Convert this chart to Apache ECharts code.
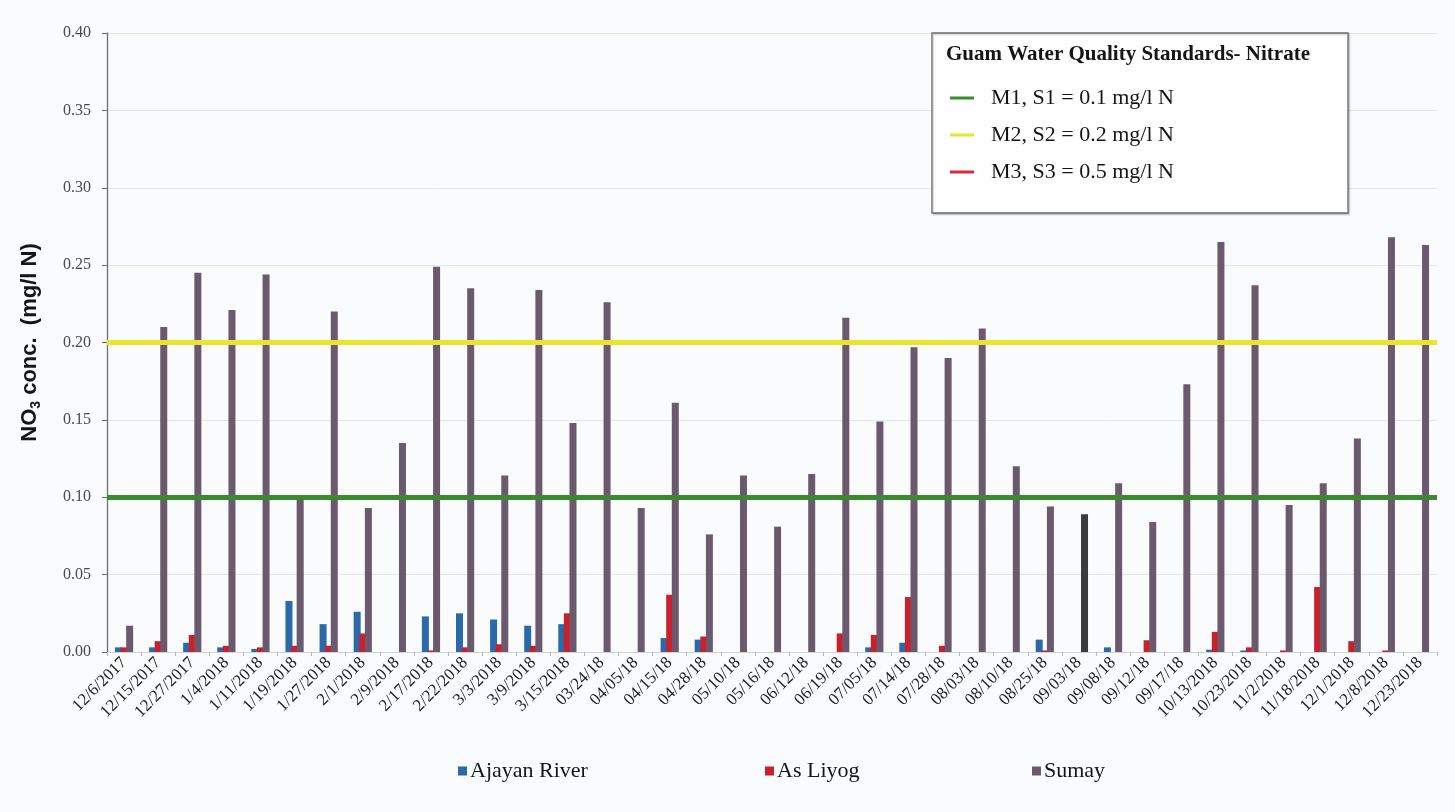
<!DOCTYPE html>
<html><head><meta charset="utf-8">
<script src="https://cdn.jsdelivr.net/npm/echarts@6/dist/echarts.min.js"></script>
<style>html,body{margin:0;padding:0;background:#fafbfc}#c{width:1455px;height:812px}</style>
</head><body><div id="c"></div>
<script>
const categories = ['12/6/2017','12/15/2017','12/27/2017','1/4/2018','1/11/2018','1/19/2018','1/27/2018','2/1/2018','2/9/2018','2/17/2018','2/22/2018','3/3/2018','3/9/2018','3/15/2018','03/24/18','04/05/18','04/15/18','04/28/18','05/10/18','05/16/18','06/12/18','06/19/18','07/05/18','07/14/18','07/28/18','08/03/18','08/10/18','08/25/18','09/03/18','09/08/18','09/12/18','09/17/18','10/13/2018','10/23/2018','11/2/2018','11/18/2018','12/1/2018','12/8/2018','12/23/2018'];
const ajayan = [0.003,0.003,0.006,0.003,0.002,0.033,0.018,0.026,0,0.023,0.025,0.021,0.017,0.018,0,0,0.009,0.008,0,0,0,0,0.003,0.006,0,0,0,0.008,0,0.003,0,0,0.0015,0.001,0,0,0,0,0];
const asLiyog = [0.003,0.007,0.011,0.004,0.003,0.004,0.004,0.012,0,0.001,0.003,0.005,0.004,0.025,0,0,0.037,0.010,0,0,0,0.012,0.011,0.0355,0.004,0,0,0.001,0,0,0.0076,0,0.013,0.003,0.001,0.042,0.007,0.001,0];
const sumay = [0.017,0.210,0.245,0.221,0.244,0.100,0.220,0.093,0.135,0.249,0.235,0.114,0.234,0.148,0.226,0.093,0.161,0.076,0.114,0.081,0.115,0.216,0.149,0.197,0.190,0.209,0.120,0.094,0.089,0.109,0.084,0.173,0.265,0.237,0.095,0.109,0.138,0.268,0.263];
const seriesNames = ['Ajayan River','As Liyog','Sumay'];
const standardNames = ['M1, S1 = 0.1 mg/l N','M2, S2 = 0.2 mg/l N','M3, S3 = 0.5 mg/l N'];
const standardLevels = [0.1, 0.2, 0.5];
const legendTitle = 'Guam Water Quality Standards- Nitrate';
const yMin = 0, yMax = 0.4, yStep = 0.05;

const SERIF = "'Liberation Serif','Times New Roman',serif";
const barColors = ['#2a6aa6','#c9202b','#6b5a6e'];
const stdColors = ['#3b8a2e','#ebe32c','#d8283a'];

const chart = echarts.init(document.getElementById('c'));
const barData = [ajayan, asLiyog, sumay];
const series = barData.map((arr, i) => ({
  name: seriesNames[i], type: 'bar', barWidth: 7, barGap: '-20%',
  itemStyle: {color: barColors[i]},
  data: arr.map((v, k) => (i === 2 && categories[k] === '09/03/18') ? {value: v, itemStyle: {color: '#3b3b3d'}} : v)
}));
standardLevels.forEach((lv, i) => {
  series.push({
    name: standardNames[i], type: 'line', z: 5, data: [], symbol: 'none',
    itemStyle: {color: stdColors[i]}, lineStyle: {color: stdColors[i], width: 3},
    markLine: lv <= yMax ? {silent: true, symbol: 'none', label: {show: false},
      lineStyle: {color: stdColors[i], width: 5, type: 'solid'},
      data: [{yAxis: lv}]} : undefined
  });
});

const bottomLefts = [453, 760, 1027];
const legends = seriesNames.map((n, i) => ({
  data: [n], left: bottomLefts[i], top: 755, icon: 'rect', itemWidth: 9, itemHeight: 9, itemGap: 0,
  textStyle: {fontFamily: SERIF, fontSize: 22, color: '#151515', padding: [0,0,0,-2]}
}));
legends.push({
  data: standardNames, orient: 'vertical', left: 945, top: 82, itemGap: 15,
  icon: 'rect', itemWidth: 24, itemHeight: 3, z: 12,
  textStyle: {fontFamily: SERIF, fontSize: 22, lineHeight: 22, color: '#151515', padding: [0,0,0,12]}
});

chart.setOption({
  backgroundColor: '#fafbfc',
  animation: false,
  grid: {left: 107, right: 18, top: 33, bottom: 160},
  legend: legends,
  graphic: [
    {type: 'rect', z: 10, shape: {x: 932, y: 33, width: 416, height: 180},
     style: {fill: '#fff', stroke: '#6d6d6d', lineWidth: 1.3, shadowBlur: 2, shadowOffsetX: 1, shadowOffsetY: 1, shadowColor: 'rgba(0,0,0,0.25)'}},
    {type: 'text', z: 11, left: 946, top: 44,
     style: {text: legendTitle, font: "bold 21px 'Liberation Serif', serif", fill: '#151515'}}
  ],
  xAxis: {
    type: 'category', data: categories, boundaryGap: true,
    axisLine: {show: true, lineStyle: {color: '#cfd2d6'}},
    axisTick: {show: true, length: 4, lineStyle: {color: '#b5b8bc'}},
    axisLabel: {rotate: 45, interval: 0, margin: 8, fontFamily: SERIF, fontSize: 17, color: '#1c1c1c'}
  },
  yAxis: {
    type: 'value', min: yMin, max: yMax, interval: yStep,
    name: '{a|NO}{s|3}{a| conc.  (mg/l N)}', nameLocation: 'middle', nameGap: 64,
    nameTextStyle: {rich: {
      a: {fontFamily: "'Liberation Sans',Arial,sans-serif", fontWeight: 'bold', fontSize: 22, color: '#151515'},
      s: {fontFamily: "'Liberation Sans',Arial,sans-serif", fontWeight: 'bold', fontSize: 14, color: '#151515', padding: [12,0,0,0]}
    }},
    axisLine: {show: true, lineStyle: {color: '#6e6e6e', width: 1.3}},
    axisTick: {show: true, length: 5, lineStyle: {color: '#6e6e6e'}},
    axisLabel: {formatter: v => v.toFixed(2), fontFamily: SERIF, fontSize: 16, color: '#4a4a4a', margin: 16},
    splitLine: {show: true, lineStyle: {color: '#e3e6ea', width: 1}}
  },
  series: series
});
</script></body></html>
